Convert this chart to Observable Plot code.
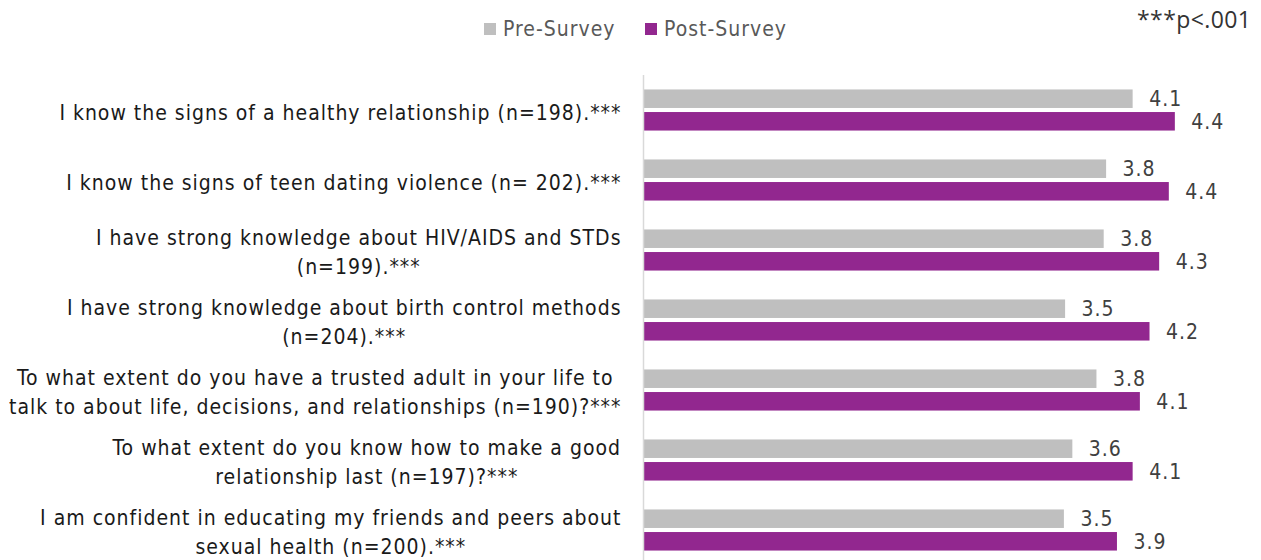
<!DOCTYPE html>
<html>
<head>
<meta charset="utf-8">
<script src="https://cdn.jsdelivr.net/npm/d3@7"></script>
<script src="https://cdn.jsdelivr.net/npm/@observablehq/plot@0.6"></script>
<style>
  html, body { margin: 0; padding: 0; background: #fff; overflow: hidden; }
  body { width: 1261px; height: 560px; font-family: "DejaVu Sans Condensed", "DejaVu Sans", sans-serif; }
  #header { position: relative; height: 60px; }
  .leg { position: absolute; top: 17px; font-size: 21px; letter-spacing: 1px; color: #595959; display: flex; align-items: center; white-space: nowrap; }
  .sw { display: inline-block; width: 12px; height: 12px; margin-right: 7px; }
  #note { position: absolute; left: 1137px; top: 3px; font-family: "Open Sans", sans-serif; font-size: 23px; letter-spacing: 0.4px; color: #333; }
  #chart svg { display: block; }
</style>
</head>
<body>
<div id="header"></div>
<div id="chart"></div>
<script>
const questions = [
  "I know the signs of a healthy relationship (n=198).***",
  "I know the signs of teen dating violence (n= 202).***",
  "I have strong knowledge about HIV/AIDS and STDs\n(n=199).***",
  "I have strong knowledge about birth control methods\n(n=204).***",
  "To what extent do you have a trusted adult in your life to\ntalk to about life, decisions, and relationships (n=190)?***",
  "To what extent do you know how to make a good\nrelationship last (n=197)?***",
  "I am confident in educating my friends and peers about\nsexual health (n=200).***"
];
const series = ["Pre-Survey", "Post-Survey"];
const preValues = [4.06, 3.84, 3.82, 3.50, 3.76, 3.56, 3.49];
const postValues = [4.41, 4.36, 4.28, 4.20, 4.12, 4.06, 3.93];
const seriesColors = ["#bfbfbf", "#92278f"];
const noteText = "***p<.001";

const data = [];
questions.forEach((q, i) => {
  data.push({q, s: series[0], v: preValues[i]});
  data.push({q, s: series[1], v: postValues[i]});
});

// legend
const header = document.getElementById("header");
const legPos = [484, 645];
series.forEach((s, i) => {
  const el = document.createElement("div");
  el.className = "leg";
  el.style.left = legPos[i] + "px";
  el.innerHTML = `<span class="sw" style="background:${seriesColors[i]}"></span><span>${s}</span>`;
  header.appendChild(el);
});
const note = document.createElement("div");
note.id = "note";
note.textContent = noteText;
header.appendChild(note);

const chart = Plot.plot({
  width: 1261,
  height: 505,
  marginTop: 15,
  marginBottom: 0,
  marginLeft: 643,
  marginRight: 15,
  style: {fontFamily: "'DejaVu Sans Condensed', 'DejaVu Sans', sans-serif", background: "#fff", letterSpacing: "1px"},
  x: {domain: [0, 5], axis: null},
  fy: {domain: questions, padding: 0, axis: null},
  y: {domain: series, paddingInner: 0.18, paddingOuter: 0.64, round: false, axis: null},
  color: {domain: series, range: seriesColors},
  marks: [
    Plot.barX(data, {x: "v", y: "s", fy: "q", fill: "s"}),
    Plot.text(data, {x: "v", y: "s", fy: "q", text: d => d.v.toFixed(1), textAnchor: "start", dx: 16, fontSize: 21, fill: "#404040"}),
    Plot.text(questions, {fy: d => d, text: d => d, frameAnchor: "left", dx: -22, textAnchor: "end", lineHeight: 1.38, fontSize: 21, fill: "#1a1a1a"}),
    Plot.ruleX([0], {stroke: "#d9d9d9", strokeWidth: 1.5})
  ]
});
document.getElementById("chart").appendChild(chart);

// center each multi-line label's lines on its own block, keeping the block right-aligned
const flatQuestions = questions.map(q => q.replace("\n", ""));
chart.querySelectorAll("text").forEach(t => {
  if (!flatQuestions.includes(t.textContent)) return;
  const w = t.getBBox().width;
  t.setAttribute("text-anchor", "middle");
  t.querySelectorAll("tspan").forEach(s => s.setAttribute("text-anchor", "middle"));
  t.setAttribute("transform", (t.getAttribute("transform") || "") + ` translate(${-w / 2},0)`);
});
</script>
</body>
</html>
